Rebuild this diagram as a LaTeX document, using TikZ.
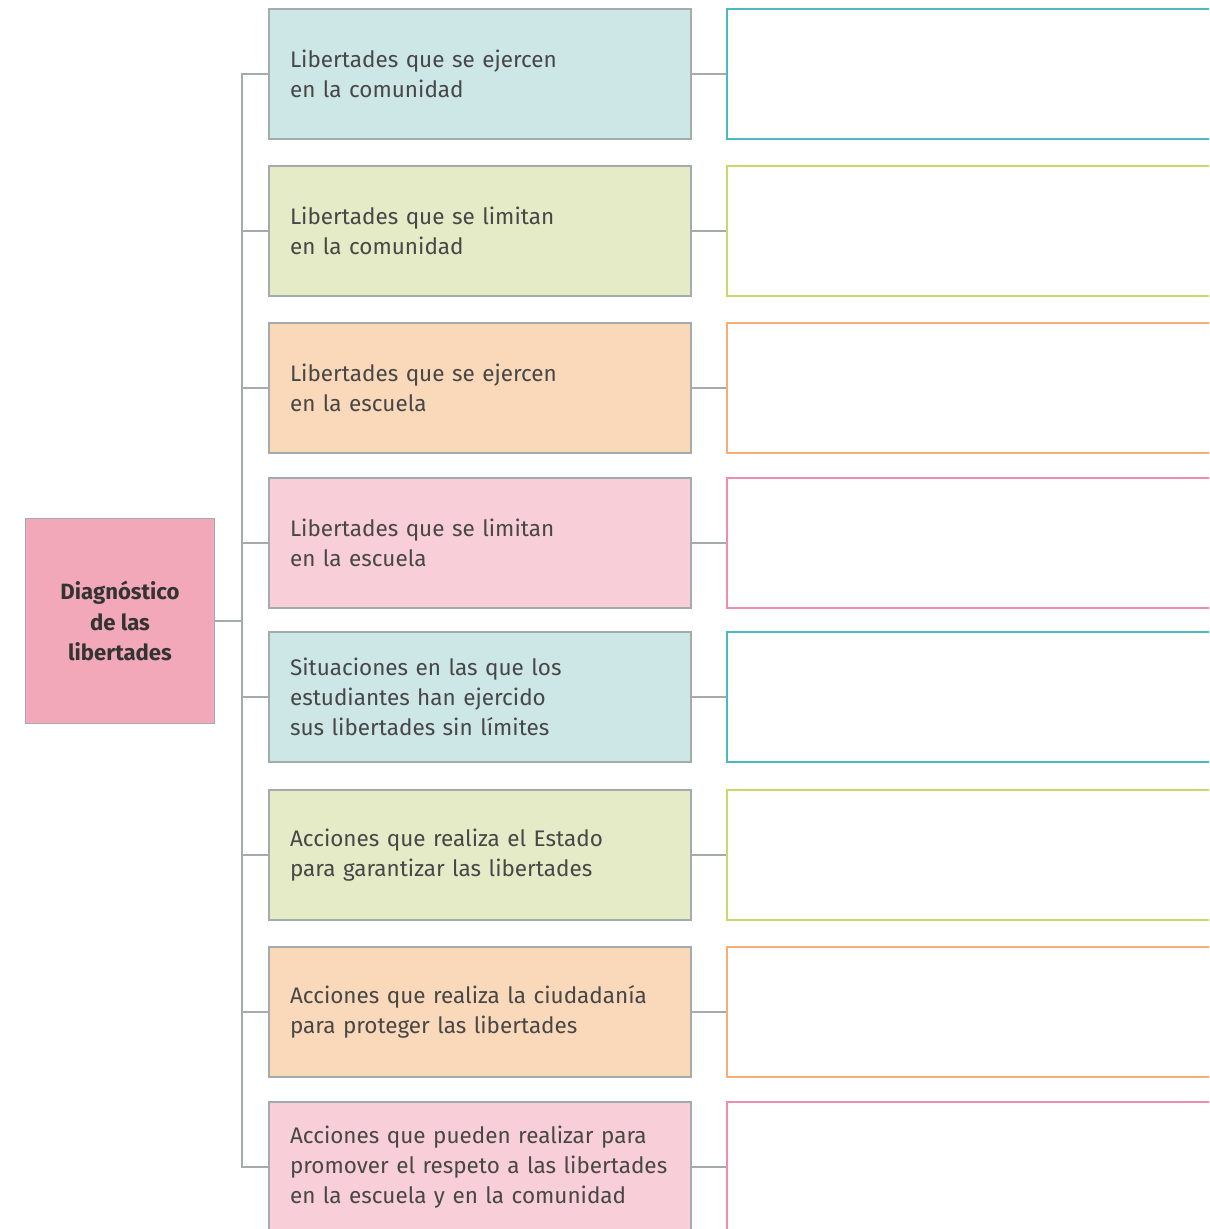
\documentclass[tikz,border=0pt]{standalone}
\usepackage{fontspec}
\setmainfont{Fira Sans}
\usepackage{xcolor}
\usepackage{tikz}
\usetikzlibrary{positioning}

\definecolor{fillblue}{HTML}{CDE6E6}
\definecolor{fillgreen}{HTML}{E4EBC6}
\definecolor{fillorange}{HTML}{FAD8BA}
\definecolor{fillpink}{HTML}{F8CED8}
\definecolor{fillmain}{HTML}{F3A8B9}
\definecolor{edgeblue}{HTML}{4DB8C0}
\definecolor{edgegreen}{HTML}{C6D96C}
\definecolor{edgeorange}{HTML}{F6AE78}
\definecolor{edgepink}{HTML}{EE8EA8}
\definecolor{linegray}{HTML}{A3ABAB}
\definecolor{textgray}{HTML}{474747}

\tikzset{
  topic/.style={draw=linegray, line width=0.9pt, minimum width=8.44cm, minimum height=2.6cm,
    text width=7.6cm, inner xsep=0.42cm, align=left, font=\fontsize{12.8}{17.2}\selectfont, text=textgray},
  answer/.style={fill=white, line width=1.3pt, minimum width=10.1cm, minimum height=2.6cm},
  link/.style={draw=linegray, line width=0.9pt}
}

\begin{document}
\begin{tikzpicture}[x=0.02cm,y=-0.02cm]
\useasboundingbox (0,0) rectangle (1209,1229);
\clip (0,0) rectangle (1209,1229);
\fill[white] (0,0) rectangle (1209,1229);

% main box
\node[draw=linegray, line width=0.9pt, fill=fillmain, minimum width=3.78cm, minimum height=4.1cm,
  align=center, font=\bfseries\fontsize{12.6}{17.2}\selectfont, text=black!80] (diag) at (120,621)
  {Diagnóstico\\de las\\libertades};
\coordinate (trunk) at (242,621);

% topics
\node[topic, fill=fillblue] (m1) at (480,74) {Libertades que se ejercen\\en la comunidad};
\node[topic, fill=fillgreen] (m2) at (480,231) {Libertades que se limitan\\en la comunidad};
\node[topic, fill=fillorange] (m3) at (480,388) {Libertades que se ejercen\\en la escuela};
\node[topic, fill=fillpink] (m4) at (480,543) {Libertades que se limitan\\en la escuela};
\node[topic, fill=fillblue] (m5) at (480,697) {Situaciones en las que los\\estudiantes han ejercido\\sus libertades sin límites};
\node[topic, fill=fillgreen] (m6) at (480,855) {Acciones que realiza el Estado\\para garantizar las libertades};
\node[topic, fill=fillorange] (m7) at (480,1012) {Acciones que realiza la ciudadanía\\para proteger las libertades};
\node[topic, fill=fillpink] (m8) at (480,1167) {Acciones que pueden realizar para\\promover el respeto a las libertades\\en la escuela y en la comunidad};

% empty answer boxes
\node[answer, draw=edgeblue, anchor=west] (r1) at (726,74) {};
\node[answer, draw=edgegreen, anchor=west] (r2) at (726,231) {};
\node[answer, draw=edgeorange, anchor=west] (r3) at (726,388) {};
\node[answer, draw=edgepink, anchor=west] (r4) at (726,543) {};
\node[answer, draw=edgeblue, anchor=west] (r5) at (726,697) {};
\node[answer, draw=edgegreen, anchor=west] (r6) at (726,855) {};
\node[answer, draw=edgeorange, anchor=west] (r7) at (726,1012) {};
\node[answer, draw=edgepink, anchor=west] (r8) at (726,1167) {};

% connectors
\draw[link] (diag.east) -- (trunk);
\draw[link] (m1.west) -| (trunk) |- (m8.west);
\draw[link] (m2.west) -- (m2.west -| trunk);
\draw[link] (m3.west) -- (m3.west -| trunk);
\draw[link] (m4.west) -- (m4.west -| trunk);
\draw[link] (m5.west) -- (m5.west -| trunk);
\draw[link] (m6.west) -- (m6.west -| trunk);
\draw[link] (m7.west) -- (m7.west -| trunk);
\draw[link] (m1.east) -- (r1.west);
\draw[link] (m2.east) -- (r2.west);
\draw[link] (m3.east) -- (r3.west);
\draw[link] (m4.east) -- (r4.west);
\draw[link] (m5.east) -- (r5.west);
\draw[link] (m6.east) -- (r6.west);
\draw[link] (m7.east) -- (r7.west);
\draw[link] (m8.east) -- (r8.west);
\end{tikzpicture}
\end{document}
